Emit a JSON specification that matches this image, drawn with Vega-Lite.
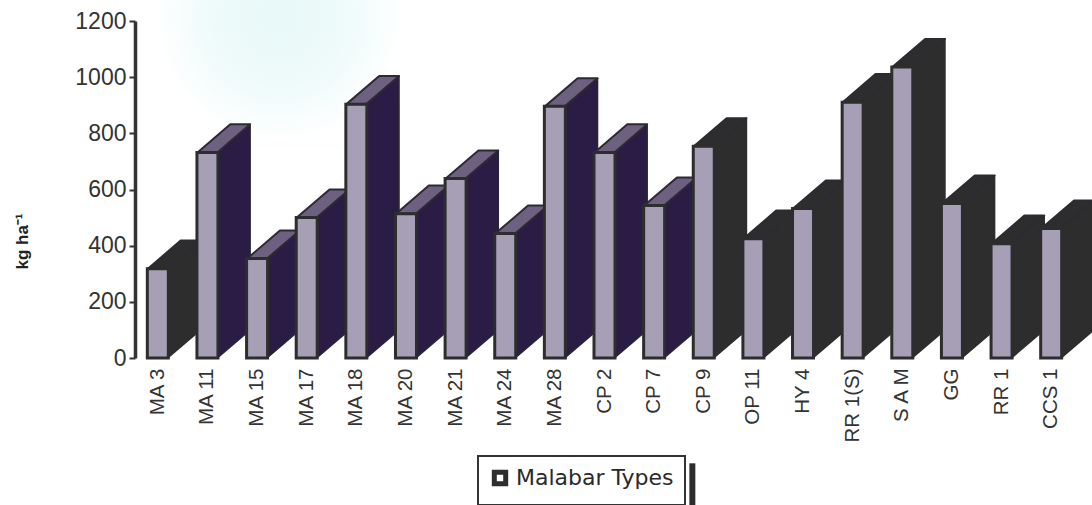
{
  "$schema": "https://vega.github.io/schema/vega-lite/v6.json",
  "width": 943,
  "height": 337,
  "autosize": "none",
  "padding": {"left": 133, "top": 21, "right": 16, "bottom": 147},
  "background": "#ffffff",
  "config": {"view": {"stroke": null}, "legend": {"strokeWidth": 2}},
  "data": {"values": [
    {"type": "MA 3", "yield": 318, "ink": "dark"},
    {"type": "MA 11", "yield": 732, "ink": "purple"},
    {"type": "MA 15", "yield": 354, "ink": "purple"},
    {"type": "MA 17", "yield": 500, "ink": "purple"},
    {"type": "MA 18", "yield": 904, "ink": "purple"},
    {"type": "MA 20", "yield": 514, "ink": "purple"},
    {"type": "MA 21", "yield": 639, "ink": "purple"},
    {"type": "MA 24", "yield": 443, "ink": "purple"},
    {"type": "MA 28", "yield": 896, "ink": "purple"},
    {"type": "CP 2", "yield": 732, "ink": "purple"},
    {"type": "CP 7", "yield": 543, "ink": "purple"},
    {"type": "CP 9", "yield": 754, "ink": "dark"},
    {"type": "OP 11", "yield": 425, "ink": "dark"},
    {"type": "HY 4", "yield": 532, "ink": "dark"},
    {"type": "RR 1(S)", "yield": 911, "ink": "dark"},
    {"type": "S A M", "yield": 1036, "ink": "dark"},
    {"type": "GG", "yield": 550, "ink": "dark"},
    {"type": "RR 1", "yield": 407, "ink": "dark"},
    {"type": "CCS 1", "yield": 461, "ink": "dark"}
  ]},
  "transform": [
    {"window": [{"op": "row_number", "as": "order"}]},
    {"calculate": "datum.order - 1", "as": "slot"},
    {"calculate": "[0, 1]", "as": "depth"},
    {"flatten": ["depth"]},
    {"calculate": "datum.slot + 0.2 + datum.depth * 0.66", "as": "sideX"},
    {"calculate": "datum.depth * 100", "as": "sideBase"},
    {"calculate": "datum.yield + datum.depth * 100", "as": "sideTop"},
    {"calculate": "datum.slot - 0.2 + datum.depth * 0.66", "as": "capLeft"},
    {"calculate": "datum.slot + 0.2 + datum.depth * 0.66", "as": "capRight"}
  ],
  "layer": [
    {
      "data": {"values": [{}]},
      "transform": [],
      "mark": {
        "type": "rect",
        "fill": {
          "gradient": "radial", "x1": 0.5, "y1": 0.37, "r1": 0, "x2": 0.5, "y2": 0.37, "r2": 0.3,
          "stops": [
            {"offset": 0, "color": "#e8f8f8"},
            {"offset": 0.6, "color": "#f0fbfb"},
            {"offset": 1, "color": "#ffffff"}
          ]
        }
      },
      "encoding": {
        "x": {"datum": -1.7, "type": "quantitative", "scale": {"domain": [-0.5, 18.5]}, "axis": null},
        "x2": {"datum": 6.6},
        "y": {"datum": 1275, "type": "quantitative", "scale": {"domain": [0, 1200]},
          "axis": {
            "title": "kg ha⁻¹", "titleFont": "Liberation Sans", "titleFontSize": 17, "titleFontWeight": "bold", "titleColor": "#222222",
            "titleX": -104, "titleY": 220, "titleAngle": -90,
            "values": [0, 200, 400, 600, 800, 1000, 1200], "format": "d",
            "grid": false, "offset": -2, "zindex": 1,
            "domainColor": "#333333", "domainWidth": 3.5,
            "tickColor": "#333333", "tickWidth": 2, "tickSize": 6,
            "labelFont": "Liberation Sans", "labelFontSize": 23, "labelColor": "#333333", "labelPadding": 3
          }
        },
        "y2": {"datum": 760}
      }
    },
    {
      "mark": {"type": "area", "strokeWidth": 1.5, "strokeJoin": "round"},
      "encoding": {
        "x": {"field": "sideX", "type": "quantitative", "scale": {"domain": [-0.5, 18.5]}, "axis": null},
        "y": {"field": "sideTop", "type": "quantitative", "stack": null, "scale": {"domain": [0, 1200]}},
        "y2": {"field": "sideBase"},
        "detail": {"field": "type"},
        "color": {"field": "ink", "type": "nominal", "legend": null,
          "scale": {"domain": ["dark", "purple"], "range": ["#2d2d2d", "#2b1c45"]}},
        "stroke": {"field": "ink", "type": "nominal", "legend": null,
          "scale": {"domain": ["dark", "purple"], "range": ["#2d2d2d", "#2b2533"]}}
      }
    },
    {
      "mark": {"type": "area", "orient": "horizontal", "strokeWidth": 2, "strokeJoin": "round"},
      "encoding": {
        "x": {"field": "capLeft", "type": "quantitative", "scale": {"domain": [-0.5, 18.5]}, "axis": null},
        "x2": {"field": "capRight"},
        "y": {"field": "sideTop", "type": "quantitative", "stack": null, "scale": {"domain": [0, 1200]}},
        "detail": {"field": "type"},
        "color": {"field": "ink", "type": "nominal", "legend": null,
          "scale": {"domain": ["dark", "purple"], "range": ["#2d2d2d", "#6d6080"]}},
        "stroke": {"value": "#2d2a33"}
      }
    },
    {
      "transform": [{"filter": "datum.depth === 0"}],
      "mark": {"type": "bar", "size": 21, "fill": "#a79fb6", "stroke": "#2d2d2d", "strokeWidth": 3},
      "encoding": {
        "x": {"field": "type", "type": "nominal", "sort": null,
          "axis": {
            "title": null, "domain": false, "ticks": false, "labelAngle": -90, "labelAlign": "right", "labelBaseline": "middle",
            "labelFont": "Liberation Sans", "labelFontSize": 20.5, "labelColor": "#333333", "labelPadding": 10
          }
        },
        "y": {"field": "yield", "type": "quantitative", "stack": null, "scale": {"domain": [0, 1200]}}
      }
    },
    {
      "data": {"values": [{}]},
      "transform": [{"filter": "false"}],
      "mark": {"type": "point", "shape": "square", "filled": false, "opacity": 1},
      "encoding": {
        "stroke": {"datum": "Malabar Types", "type": "nominal",
          "scale": {"range": ["#2d2d2d"]},
          "legend": {
            "title": null, "orient": "none", "legendX": 345, "legendY": 435,
            "symbolType": "square", "symbolSize": 130, "symbolStrokeWidth": 5,
            "labelFont": "DejaVu Sans", "labelFontSize": 22, "labelColor": "#2a2a2a", "labelOffset": 5,
            "fillColor": "#ffffff", "strokeColor": "#333333", "padding": 11
          }
        }
      }
    },
    {
      "data": {"values": [{}]},
      "transform": [],
      "mark": {"type": "rule", "color": "#2d2d2d", "strokeWidth": 6},
      "encoding": {
        "x": {"datum": 10.77, "type": "quantitative", "scale": {"domain": [-0.5, 18.5]}, "axis": null},
        "y": {"datum": -375, "type": "quantitative", "scale": {"domain": [0, 1200]}},
        "y2": {"datum": -525}
      }
    }
  ],
  "resolve": {"scale": {"x": "independent", "color": "independent", "stroke": "independent"}, "axis": {"x": "independent"}}
}
